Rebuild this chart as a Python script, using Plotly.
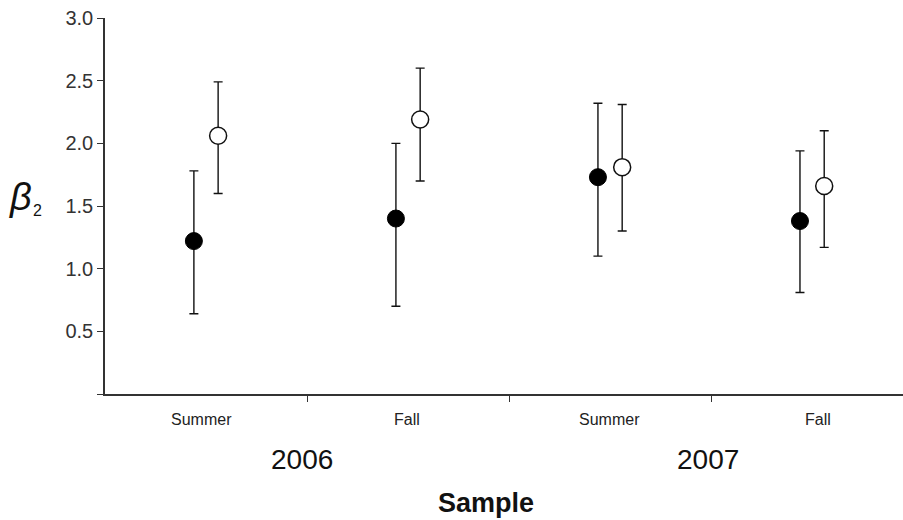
import plotly.graph_objects as go

# Sample positions (group index 0..3, centred at 0.5, 1.5, ...)
seasons = ["Summer", "Fall", "Summer", "Fall"]
years = ["2006", "2007"]
group_pos = [0.5, 1.5, 2.5, 3.5]
offset = 0.06

# beta_2 estimates with lower / upper interval limits
filled_mean = [1.22, 1.40, 1.73, 1.38]
filled_low = [0.64, 0.70, 1.10, 0.81]
filled_high = [1.78, 2.00, 2.32, 1.94]

open_mean = [2.06, 2.19, 1.81, 1.66]
open_low = [1.60, 1.70, 1.30, 1.17]
open_high = [2.49, 2.60, 2.31, 2.10]

y_ticks = [0, 0.5, 1.0, 1.5, 2.0, 2.5, 3.0]
y_tick_text = ["", "0.5", "1.0", "1.5", "2.0", "2.5", "3.0"]


def err(mean, low, high):
    return dict(
        type="data",
        symmetric=False,
        array=[h - m for m, h in zip(mean, high)],
        arrayminus=[m - l for m, l in zip(mean, low)],
        color="#111111",
        thickness=1.4,
        width=4.5,
    )


fig = go.Figure()
fig.add_trace(go.Scatter(
    x=[p - offset for p in group_pos], y=filled_mean, mode="markers",
    marker=dict(size=17, color="#000000", line=dict(color="#000000", width=1)),
    error_y=err(filled_mean, filled_low, filled_high), showlegend=False,
))
fig.add_trace(go.Scatter(
    x=[p + offset for p in group_pos], y=open_mean, mode="markers",
    marker=dict(size=17, color="#ffffff", line=dict(color="#111111", width=1.5)),
    error_y=err(open_mean, open_low, open_high), showlegend=False,
))

font = "Liberation Sans, Arial, sans-serif"
label_shift = [-0.02, -0.005, -0.005, 0.03]
annotations = []
for p, d, s in zip(group_pos, label_shift, seasons):
    annotations.append(dict(x=p + d, y=-0.067, xref="x", yref="paper", text=s,
                            showarrow=False, font=dict(family=font, size=16, color="#222"),
                            xanchor="center", yanchor="middle"))
for p, yr in zip([0.975, 2.985], years):
    annotations.append(dict(x=p, y=-0.173, xref="x", yref="paper", text=yr,
                            showarrow=False, font=dict(family=font, size=28, color="#111"),
                            xanchor="center", yanchor="middle"))
annotations.append(dict(x=1.886, y=-0.29, xref="x", yref="paper", text="<b>Sample</b>",
                        showarrow=False, font=dict(family=font, size=27, color="#111"),
                        xanchor="center", yanchor="middle"))
# axis title: italic beta with a lowered subscript 2
annotations.append(dict(x=-0.106, y=0.525, xref="paper", yref="paper",
                        text="<i>β</i>", showarrow=False,
                        font=dict(family=font, size=38, color="#111"),
                        xanchor="center", yanchor="middle"))
annotations.append(dict(x=-0.084, y=0.488, xref="paper", yref="paper",
                        text="2", showarrow=False,
                        font=dict(family=font, size=16, color="#111"),
                        xanchor="center", yanchor="middle"))

fig.update_layout(
    width=903, height=520,
    margin=dict(l=105, r=0, t=18, b=126),
    plot_bgcolor="white", paper_bgcolor="white",
    annotations=annotations,
    xaxis=dict(range=[0, 3.95], tickvals=[1, 2, 3], ticktext=["", "", ""],
               ticks="outside", ticklen=6, tickcolor="#333", tickwidth=1.2,
               showline=True, linecolor="#333", linewidth=1.5,
               showgrid=False, zeroline=False),
    yaxis=dict(range=[0, 3.0], tickvals=y_ticks, ticktext=y_tick_text,
               ticks="outside", ticklen=6, tickcolor="#333", tickwidth=1.2,
               showline=True, linecolor="#333", linewidth=1.5,
               showgrid=False, zeroline=False,
               tickfont=dict(family=font, size=20, color="#333")),
)

fig.write_html("out.html")
